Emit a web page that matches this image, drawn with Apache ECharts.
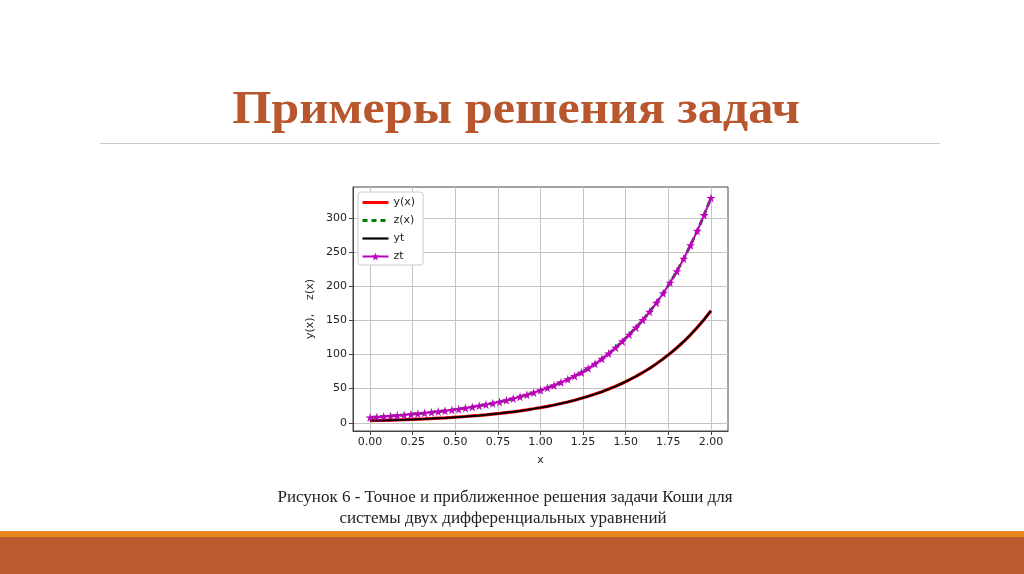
<!DOCTYPE html>
<html><head><meta charset="utf-8">
<script src="https://cdn.jsdelivr.net/npm/echarts@6/dist/echarts.min.js"></script>
<style>html,body{margin:0;padding:0;background:#fff}#c{width:1024px;height:574px}</style>
</head><body><div id="c"></div>
<script>
const xValues = [0,0.04,0.08,0.12,0.16,0.2,0.24,0.28,0.32,0.36,0.4,0.44,0.48,0.52,0.56,0.6,0.64,0.68,0.72,0.76,0.8,0.84,0.88,0.92,0.96,1,1.04,1.08,1.12,1.16,1.2,1.24,1.28,1.32,1.36,1.4,1.44,1.48,1.52,1.56,1.6,1.64,1.68,1.72,1.76,1.8,1.84,1.88,1.92,1.96,2];
const ytValues = [3.2,3.4,3.6,3.9,4.2,4.5,4.9,5.3,5.7,6.2,6.7,7.2,7.8,8.5,9.2,10.0,10.8,11.7,12.7,13.7,14.9,16.1,17.4,18.9,20.5,22.2,24.0,26.0,28.2,30.5,33.1,35.8,38.8,42.0,45.5,49.3,53.4,57.9,62.7,67.9,73.6,79.7,86.4,93.6,101.4,109.8,118.9,128.8,139.6,151.2,163.8];
const ztValues = [7.8,8.4,9.1,9.9,10.7,11.5,12.5,13.4,14.3,15.3,16.4,17.6,18.8,20.2,21.6,23.2,24.8,26.6,28.5,30.6,32.9,35.4,38.1,41.0,44.1,47.5,51.1,55.0,59.1,63.6,68.5,73.6,79.6,86.3,93.5,101.4,109.9,119.1,128.9,139.2,150.4,162.4,175.6,189.6,205.0,221.8,240.1,259.8,280.9,303.9,329.0];
// numerical solutions coincide visually with the exact ones
const yApprox = ytValues;
const zApprox = ztValues;
const xTicks = [0,0.25,0.5,0.75,1,1.25,1.5,1.75,2];
const yTicks = [0,50,100,150,200,250,300];
const seriesNames = ['y(x)','z(x)','yt','zt'];

const pairs = arr => xValues.map((x,i)=>[x,arr[i]]);
const star = 'path://M50,0 L61,35 L98,35 L68,57 L79,91 L50,70 L21,91 L32,57 L2,35 L39,35 Z';
const font = 'DejaVu Sans';
const chart = echarts.init(document.getElementById('c'), null, {renderer:'canvas'});
chart.setOption({
  animation:false,
  backgroundColor:'#fff',
  grid:{left:353, top:187, width:375, height:244, show:true, borderColor:'#444', borderWidth:1, backgroundColor:'transparent'},
  legend:{
    data:[
      {name:seriesNames[0], itemStyle:{opacity:0}, lineStyle:{width:3}},
      {name:seriesNames[1], itemStyle:{opacity:0}, lineStyle:{width:3, type:[5,4]}},
      {name:seriesNames[2], itemStyle:{opacity:0}, lineStyle:{width:2.2}},
      {name:seriesNames[3], lineStyle:{width:2}}
    ],
    orient:'vertical', left:358, top:192,
    itemWidth:26, itemHeight:10, itemGap:7,
    textStyle:{fontFamily:font, fontSize:11, color:'#222'},
    padding:[5,8,3,3], backgroundColor:'#fff', borderColor:'#ccc', borderWidth:1, borderRadius:3
  },
  xAxis:{
    type:'value', min:-0.1, max:2.1,
    name:'x', nameLocation:'middle', nameGap:24,
    nameTextStyle:{fontFamily:font, fontSize:11, color:'#222'},
    axisLine:{show:true, onZero:false, lineStyle:{color:'#444', width:1}},
    axisTick:{show:true, customValues:xTicks, length:4, lineStyle:{color:'#444'}},
    axisLabel:{customValues:xTicks, fontFamily:font, fontSize:11, color:'#222', margin:6, formatter:v=>v.toFixed(2)},
    splitLine:{show:true, lineStyle:{color:'#c4c4c4', width:1}}
  },
  yAxis:{
    type:'value', min:-12, max:345,
    name:'y(x),    z(x)', nameLocation:'middle', nameGap:37,
    nameTextStyle:{fontFamily:font, fontSize:11, color:'#222'},
    axisLine:{show:true, onZero:false, lineStyle:{color:'#444', width:1}},
    axisTick:{show:true, customValues:yTicks, length:4, lineStyle:{color:'#444'}},
    axisLabel:{customValues:yTicks, fontFamily:font, fontSize:11, color:'#222', margin:6},
    splitLine:{show:true, lineStyle:{color:'#c4c4c4', width:1}}
  },
  series:[
    {name:'y(x)', type:'line', data:pairs(yApprox), symbol:'none', itemStyle:{color:'#ff0000'}, lineStyle:{color:'#ff0000', width:3.2}},
    {name:'z(x)', type:'line', data:pairs(zApprox), symbol:'none', itemStyle:{color:'#008000'}, lineStyle:{color:'#008000', width:3, type:[6,4]}},
    {name:'yt', type:'line', data:pairs(ytValues), symbol:'none', itemStyle:{color:'#000'}, lineStyle:{color:'#000', width:2}},
    {name:'zt', type:'line', data:pairs(ztValues), symbol:star, symbolSize:9, showSymbol:true, itemStyle:{color:'#bf00bf'}, lineStyle:{color:'#bf00bf', width:2}}
  ],
  graphic:[
    {type:'text', x:516, y:111, scaleX:1.07, style:{text:'Примеры решения задач', font:'bold 47px "Liberation Serif"', fill:'#b8572d', textAlign:'center', textVerticalAlign:'middle'}},
    {type:'line', shape:{x1:100, y1:143.5, x2:940, y2:143.5}, style:{stroke:'#c8c8c8', lineWidth:1}},
    {type:'text', x:505, y:498, style:{text:'Рисунок 6 - Точное и приближенное решения задачи Коши для', font:'17px "Liberation Serif"', fill:'#222', textAlign:'center', textVerticalAlign:'middle'}},
    {type:'text', x:503, y:519, style:{text:'системы двух дифференциальных уравнений', font:'17px "Liberation Serif"', fill:'#222', textAlign:'center', textVerticalAlign:'middle'}},
    {type:'rect', shape:{x:0, y:531, width:1024, height:6}, style:{fill:'#e8861e'}},
    {type:'rect', shape:{x:0, y:537, width:1024, height:37}, style:{fill:'#bb5a2e'}}
  ]
});
</script></body></html>
